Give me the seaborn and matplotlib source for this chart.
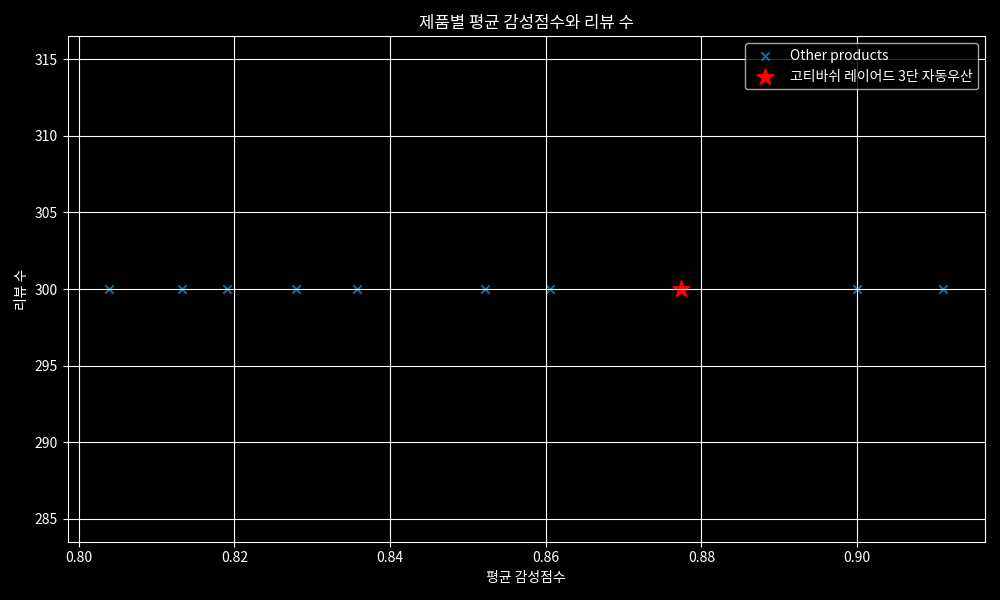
import matplotlib
matplotlib.use("Agg")
import matplotlib.pyplot as plt
import seaborn as sns
import pandas as pd

other_scores = [0.8039, 0.8133, 0.8191, 0.8279, 0.8358, 0.8522, 0.8605, 0.9000, 0.9111]
other_reviews = [300, 300, 300, 300, 300, 300, 300, 300, 300]
target_name = "고티바쉬 레이어드 3단 자동우산"
target_score = [0.8774]
target_reviews = [300]

plt.style.use("dark_background")
plt.rcParams['font.family'] = ['Noto Sans CJK KR', 'DejaVu Sans']
plt.rcParams['axes.unicode_minus'] = False

df_other = pd.DataFrame({"score": other_scores, "reviews": other_reviews})
df_target = pd.DataFrame({"score": target_score, "reviews": target_reviews})

fig, ax = plt.subplots(figsize=(10, 6), dpi=100)
sns.scatterplot(data=df_other, x="score", y="reviews", marker="x", color="#1f77b4",
                s=36, linewidth=1.5, alpha=0.85, label="Other products", ax=ax)
sns.scatterplot(data=df_target, x="score", y="reviews", marker="*", color="red",
                s=160, edgecolor="red", label=target_name, ax=ax)
ax.grid(True, color="white", linewidth=0.8)
ax.set_title("제품별 평균 감성점수와 리뷰 수")
ax.set_xlabel("평균 감성점수")
ax.set_ylabel("리뷰 수")
ax.legend(loc="upper right")
fig.tight_layout()
fig.savefig("out.png", dpi=100)
